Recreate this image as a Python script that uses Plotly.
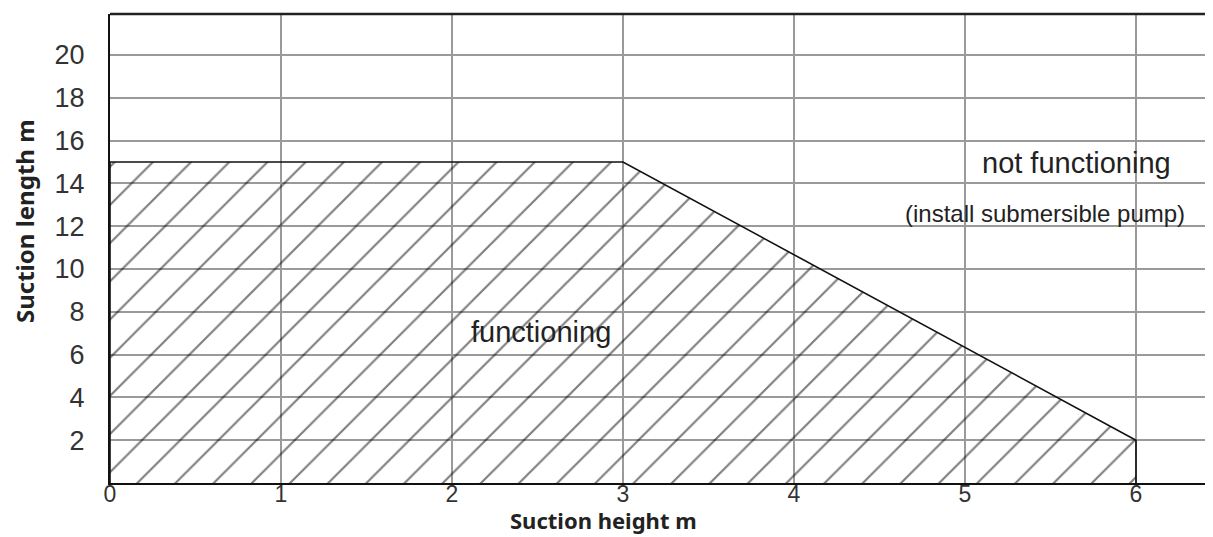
import plotly.graph_objects as go

# Data
boundary_x = [0, 0, 3, 6, 6]
boundary_y = [0, 15, 15, 2, 0]
x_ticks = [0, 1, 2, 3, 4, 5, 6]
y_ticks = [2, 4, 6, 8, 10, 12, 14, 16, 18, 20]
region_labels = ["functioning", "not functioning", "(install submersible pump)"]
label_x = [2.52, 5.65, 5.47]
label_y = [7.05, 14.95, 12.6]
label_sizes = [29, 29, 24]

fig = go.Figure()
fig.add_trace(go.Scatter(
    x=boundary_x, y=boundary_y, mode="lines", fill="toself",
    fillcolor="rgba(0,0,0,0)",
    fillpattern=dict(shape="/", fgcolor="#000000", bgcolor="rgba(0,0,0,0)",
                     size=27, solidity=0.08),
    line=dict(color="#111111", width=1.6),
    hoverinfo="skip", showlegend=False,
))

for t, x, y, s in zip(region_labels, label_x, label_y, label_sizes):
    fig.add_annotation(x=x, y=y, text=t, showarrow=False,
                       font=dict(family="Liberation Sans", size=s, color="#222222"))

fig.add_annotation(xref="paper", yref="paper", x=(603 - 110) / 1103, y=-37 / 469,
                   text="<b>Suction height m</b>", showarrow=False,
                   yanchor="middle",
                   font=dict(family="Noto Sans", size=22, color="#222222"))
fig.add_annotation(xref="paper", yref="paper", x=(24 - 110) / 1103,
                   y=(483 - 221) / 469, text="<b>Suction length m</b>",
                   showarrow=False, textangle=-90, xanchor="center",
                   font=dict(family="Noto Sans", size=24, color="#222222"))

# top border
fig.add_shape(type="line", xref="paper", yref="paper", x0=0, x1=1, y0=1, y1=1,
              line=dict(color="#222222", width=2.5))

# page body has an 8px margin; compensate
fig.update_layout(
    width=1205, height=529,
    margin=dict(l=102, r=0, t=6, b=54),
    paper_bgcolor="white", plot_bgcolor="white",
    showlegend=False,
)
fig.update_xaxes(
    range=[0, 1103 / 171], tickvals=x_ticks, ticktext=[str(v) for v in x_ticks],
    showgrid=True, gridcolor="#9a9a9a", gridwidth=1.5,
    showline=True, linecolor="#111111", linewidth=2,
    zeroline=False, ticks="", ticklabelstandoff=-11,
    tickfont=dict(family="Liberation Sans", size=23, color="#333333"),
)
fig.update_yaxes(
    range=[0, 469 / 21.4], tickvals=y_ticks, ticktext=[str(v) for v in y_ticks],
    showgrid=True, gridcolor="#9a9a9a", gridwidth=1.5,
    showline=True, linecolor="#111111", linewidth=2,
    zeroline=False, ticks="", ticklabelstandoff=18,
    tickfont=dict(family="Liberation Sans", size=27, color="#333333"),
)

fig.write_html("out.html")
